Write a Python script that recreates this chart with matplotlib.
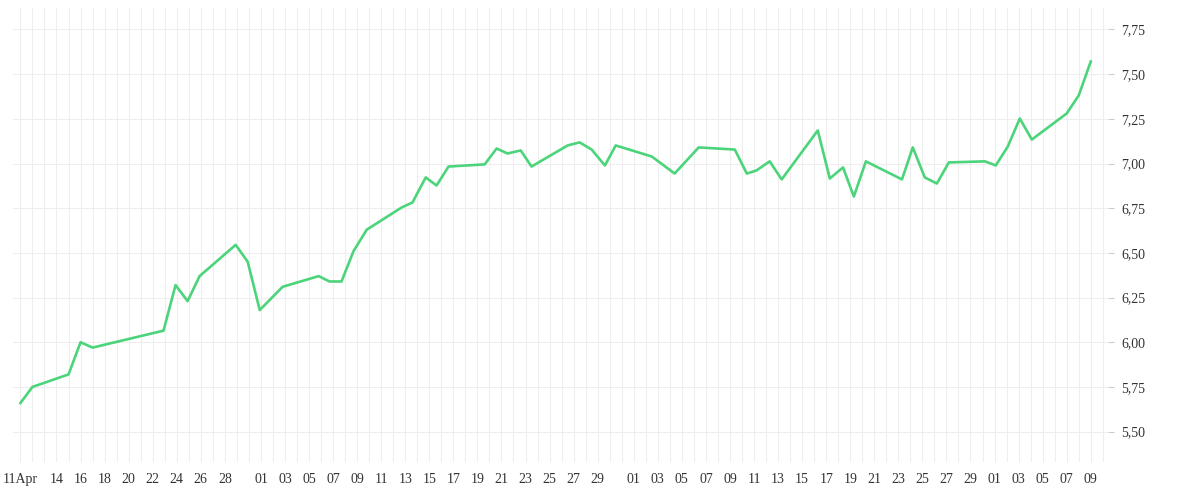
import datetime as dt
import matplotlib
matplotlib.use("Agg")
import matplotlib.pyplot as plt
import matplotlib.dates as mdates

START = dt.datetime(2025, 4, 11)

# day offsets from 11 Apr and values
day_offsets = [0, 1.0, 4.0, 5.0, 6.0, 11.9, 12.9, 13.9, 14.9, 17.9, 18.9, 19.9, 21.8,
               24.8, 25.7, 26.7, 27.7, 28.8, 31.7, 32.6, 33.7, 34.6, 35.6, 38.6, 39.6,
               40.5, 41.6, 42.5, 45.5, 46.5, 47.5, 48.6, 49.5, 52.5, 54.4, 56.4, 59.4,
               60.4, 61.2, 62.3, 63.3, 66.3, 67.3, 68.4, 69.3, 70.3, 73.3, 74.2, 75.2,
               76.2, 77.2, 80.2, 81.1, 82.1, 83.1, 84.1, 87.0, 88.0, 89.0]
values = [5.66, 5.75, 5.82, 6.00, 5.97, 6.065, 6.32, 6.23, 6.37, 6.545, 6.45, 6.18, 6.31,
          6.37, 6.34, 6.34, 6.51, 6.63, 6.754, 6.782, 6.922, 6.877, 6.983, 6.995, 7.084,
          7.056, 7.073, 6.983, 7.101, 7.118, 7.078, 6.989, 7.101, 7.039, 6.944, 7.090, 7.078,
          6.944, 6.961, 7.012, 6.911, 7.185, 6.916, 6.978, 6.815, 7.012, 6.911, 7.090, 6.922,
          6.888, 7.006, 7.012, 6.989, 7.095, 7.252, 7.134, 7.280, 7.381, 7.571]

tick_dates = ([dt.datetime(2025, 4, d) for d in [11, 14, 16, 18, 20, 22, 24, 26, 28]]
              + [dt.datetime(2025, 5, d) for d in range(1, 30, 2)]
              + [dt.datetime(2025, 6, d) for d in range(1, 30, 2)]
              + [dt.datetime(2025, 7, d) for d in range(1, 10, 2)])
tick_labels = ["11Apr"] + [f"{t.day:02d}" for t in tick_dates[1:]]
y_ticks = [5.50, 5.75, 6.00, 6.25, 6.50, 6.75, 7.00, 7.25, 7.50, 7.75]

plt.rcParams["font.family"] = ["Liberation Serif", "DejaVu Serif"]

fig = plt.figure(figsize=(12, 5), dpi=100)
ax = fig.add_axes([0.011, 0.076, 0.912, 0.908])

dates = [START + dt.timedelta(days=d) for d in day_offsets]
ax.plot(dates, values, color="#4cd47b", lw=1.9, solid_joinstyle="round", zorder=3)

ax.set_xlim(START - dt.timedelta(days=0.6), START + dt.timedelta(days=90.4))
ax.set_ylim(5.33, 7.87)

# daily vertical grid (drawn by hand so days under labels get one too)
day = START - dt.timedelta(days=0)
while day <= START + dt.timedelta(days=90):
    ax.axvline(day, color="#eeeeee", lw=0.8, zorder=0)
    day += dt.timedelta(days=1)

ax.set_xticks(tick_dates)
ax.set_xticklabels(tick_labels, fontsize=10, color="#333333")
ax.tick_params(axis="x", which="both", length=0, pad=8)

ax.yaxis.tick_right()
ax.set_yticks(y_ticks)
ax.set_yticklabels([f"{v:.2f}".replace(".", ",") for v in y_ticks], fontsize=10, color="#333333")
ax.tick_params(axis="y", length=4, color="#cccccc", pad=6)
ax.grid(which="major", axis="y", color="#eeeeee", lw=0.8, zorder=0)

for s in ax.spines.values():
    s.set_visible(False)

fig.savefig("out.png", dpi=100)
